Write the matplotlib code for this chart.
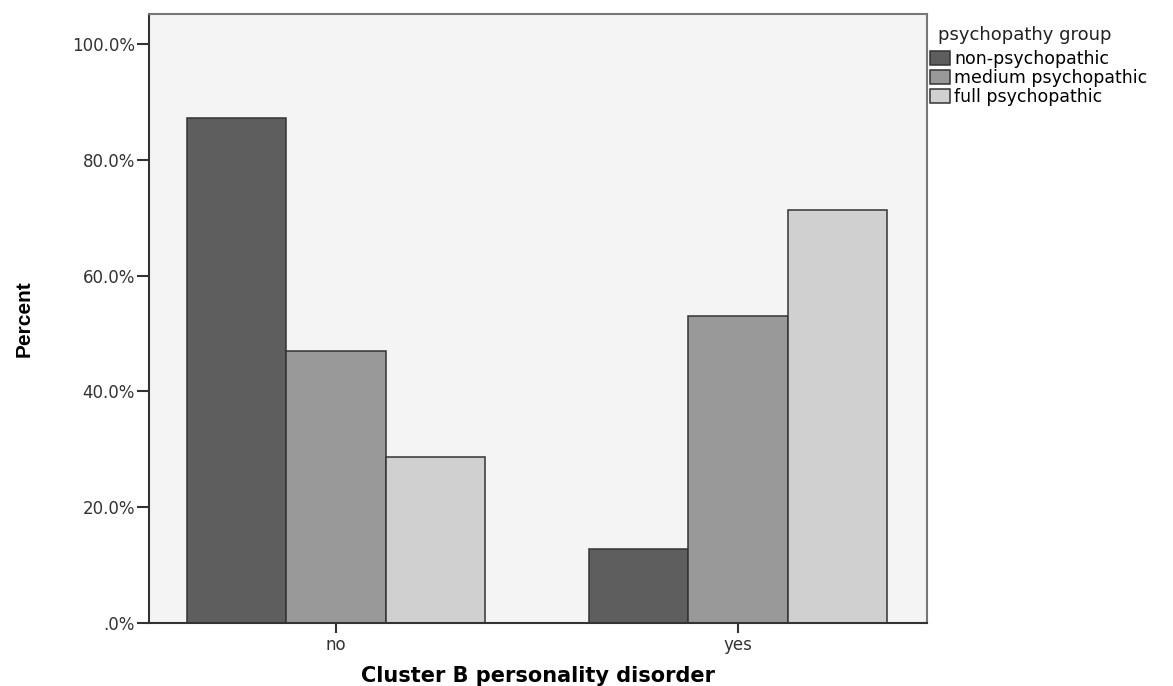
import matplotlib.pyplot as plt
import numpy as np
from matplotlib.ticker import FuncFormatter

categories = ["no", "yes"]
groups = ["non-psychopathic", "medium psychopathic", "full psychopathic"]
non_psychopathic = [87.2, 12.8]
medium_psychopathic = [46.9, 53.1]
full_psychopathic = [28.6, 71.4]
yticks = [0, 20, 40, 60, 80, 100]

colors = ["#5e5e5e", "#999999", "#d0d0d0"]


def pct(v, _):
    return ".0%" if v == 0 else "%.1f%%" % v


def main():
    W, H = 1173, 686
    fig = plt.figure(figsize=(W / 100, H / 100), dpi=100)
    ax = fig.add_axes([149 / W, 1 - 623 / H, 778 / W, 609 / H])
    ax.set_facecolor("#f4f4f4")

    x = np.arange(len(categories))
    width = 0.2475
    series = [non_psychopathic, medium_psychopathic, full_psychopathic]
    for i, (vals, name) in enumerate(zip(series, groups)):
        ax.bar(x + (i - 1) * width, vals, width, color=colors[i],
               edgecolor="#333333", linewidth=1.1, label=name, zorder=2)

    ax.set_xlim(-0.465, 1.47)
    ax.set_ylim(0, 105.2)
    ax.set_xticks(x)
    ax.set_xticklabels(categories)
    ax.set_yticks(yticks)
    ax.yaxis.set_major_formatter(FuncFormatter(pct))
    ax.tick_params(axis="y", length=9, width=1.5, color="#333333",
                   labelsize=12, labelcolor="#333333", pad=1)
    ax.tick_params(axis="x", length=7, width=1.5, color="#333333",
                   labelsize=12, labelcolor="#333333", pad=2)

    for side in ["left", "bottom"]:
        ax.spines[side].set_color("#333333")
        ax.spines[side].set_linewidth(1.5)
    for side in ["top", "right"]:
        ax.spines[side].set_color("#777777")
        ax.spines[side].set_linewidth(1.5)

    # axis titles, placed where the reference has them
    ax.set_xlabel("Cluster B personality disorder", fontsize=15,
                  fontweight="bold")
    ax.xaxis.set_label_coords(0.5, -(676 - 623) / 609)
    ax.xaxis.label.set_va("center")
    ax.set_ylabel("Percent", fontsize=15, fontweight="bold",
                  family="Liberation Sans")
    ax.yaxis.set_label_coords(-(149 - 24) / 778, 0.5)
    ax.yaxis.label.set_va("center")

    leg = ax.legend(loc="upper left",
                    bbox_to_anchor=((930 - 149) / 778, (623 - 50) / 609),
                    frameon=False, fontsize=12.5, handlelength=1.15,
                    handleheight=0.86, handletextpad=0.23, labelspacing=0.05,
                    borderaxespad=0, borderpad=0)
    for h in leg.legend_handles:
        h.set_edgecolor("#333333")
    fig.text(938 / W, 1 - 35 / H, "psychopathy group", fontsize=13,
             va="center", ha="left", color="#222222")

    fig.savefig("out.png", dpi=100)


if __name__ == "__main__":
    main()
